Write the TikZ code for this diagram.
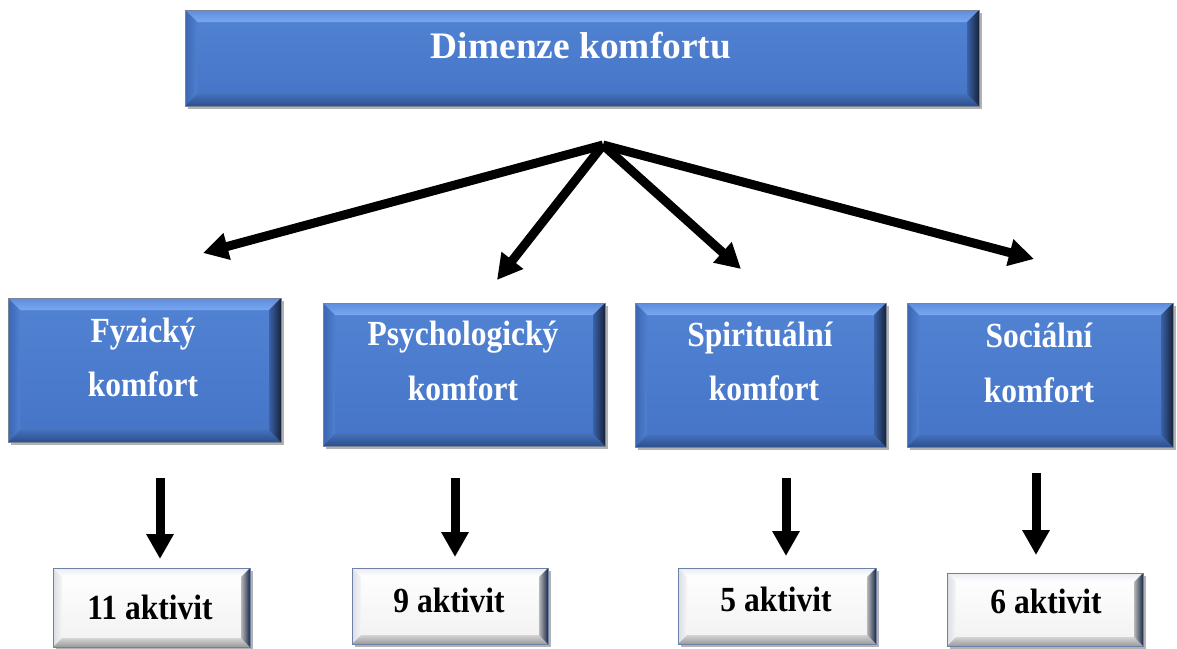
\documentclass[tikz,border=0pt]{standalone}
\usepackage{fontspec}
\setmainfont{Liberation Serif}
\usepackage{graphicx}
\usetikzlibrary{arrows.meta,fit}

% palettes for the bevelled boxes
\definecolor{bInnerT}{HTML}{5283D3}
\definecolor{bInnerB}{HTML}{4574C6}
\definecolor{bTopT}{HTML}{5D8DDC}
\definecolor{bTopB}{HTML}{79A7F2}
\definecolor{bLeftL}{HTML}{3C66B2}
\definecolor{bLeftR}{HTML}{4F80D0}
\definecolor{bBotT}{HTML}{4470BA}
\definecolor{bBotB}{HTML}{2D4F8C}
\definecolor{bRightL}{HTML}{3A62A8}
\definecolor{bRightR}{HTML}{17233C}
\definecolor{bLine}{RGB}{120,132,150}
\definecolor{wInnerB}{HTML}{F1F1F1}
\definecolor{wTopT}{HTML}{E9ECF2}
\definecolor{wLeftL}{HTML}{D9DCE2}
\definecolor{wLeftR}{HTML}{F6F6F6}
\definecolor{wBotT}{HTML}{D4D4D4}
\definecolor{wBotB}{HTML}{9A9A9A}
\definecolor{wRightL}{HTML}{B8B8B8}
\definecolor{wRightR}{HTML}{1C2A48}
\definecolor{wLine}{HTML}{6F80A8}

\tikzset{
  blueshadow/.style={fill=black!30},
  blueinner/.style={top color=bInnerT, bottom color=bInnerB},
  bluetop/.style={top color=bTopT, bottom color=bTopB},
  blueleft/.style={left color=bLeftL, right color=bLeftR},
  bluebottom/.style={top color=bBotT, bottom color=bBotB},
  blueright/.style={left color=bRightL, right color=bRightR},
  blueline/.style={draw=bLine},
  whiteshadow/.style={fill=black!30},
  whiteinner/.style={top color=white, bottom color=wInnerB},
  whitetop/.style={top color=wTopT, bottom color=white},
  whiteleft/.style={left color=wLeftL, right color=wLeftR},
  whitebottom/.style={top color=wBotT, bottom color=wBotB},
  whiteright/.style={left color=wRightL, right color=wRightR},
  whiteline/.style={draw=wLine},
  titletext/.style={text=white, font=\fontsize{37.4}{40}\selectfont\bfseries, inner sep=0pt, anchor=base},
  boxtext/.style={text=white, font=\fontsize{31.5}{34}\selectfont\bfseries, inner sep=0pt, anchor=base},
  counttext/.style={text=black, font=\fontsize{31.5}{34}\selectfont\bfseries, inner sep=0pt, anchor=base},
  bigarrow/.style={line width=9pt, -{Triangle[length=25pt, width=26pt]}},
}

% \bevelbox{name}{x1}{y1}{x2}{y2}{bevel}{palette}
\newcommand{\bevelbox}[7]{%
  \fill[#7shadow] ({#2+3},{#3+3}) rectangle ({#4+3},{#5+3});
  \path[#7inner] (#2,#3) rectangle (#4,#5);
  \path[#7top] (#2,#3) -- (#4,#3) -- ({#4-#6},{#3+#6}) -- ({#2+#6},{#3+#6}) -- cycle;
  \path[#7left] (#2,#3) -- ({#2+#6},{#3+#6}) -- ({#2+#6},{#5-#6}) -- (#2,#5) -- cycle;
  \path[#7bottom] (#2,#5) -- ({#2+#6},{#5-#6}) -- ({#4-#6},{#5-#6}) -- (#4,#5) -- cycle;
  \path[#7right] (#4,#3) -- ({#4-#6},{#3+#6}) -- ({#4-#6},{#5-#6}) -- (#4,#5) -- cycle;
  \node[fit={(#2,#3) (#4,#5)}, inner sep=0pt, #7line, line width=0.8pt] (#1) {};
}
\newcommand{\tallr}[1]{\scalebox{1}[1.12]{#1}}

\begin{document}
\begin{tikzpicture}[x=1pt, y=-1pt]
  \useasboundingbox[fill=white] (0,0) rectangle (1177,648);

  % heading
  \bevelbox{dim}{185}{10}{979}{106}{12}{blue}
  \node[titletext] (dimT) at (581,58) {Dimenze komfortu};

  % the four dimensions
  \bevelbox{fyz}{8}{298}{281}{442}{12}{blue}
  \bevelbox{psy}{323}{303}{605}{446}{12}{blue}
  \bevelbox{spi}{635}{303}{886}{447}{12}{blue}
  \bevelbox{soc}{907}{303}{1173}{447}{12}{blue}

  \node[boxtext] (fyzA) at (143,342) {\tallr{Fyzický}};
  \node[boxtext] (fyzB) at (143,396) {\tallr{komfort}};
  \node[boxtext] (psyA) at (463,345) {\tallr{Psychologický}};
  \node[boxtext] (psyB) at (463,400) {\tallr{komfort}};
  \node[boxtext] (spiA) at (760,346) {\tallr{Spirituální}};
  \node[boxtext] (spiB) at (764,400) {\tallr{komfort}};
  \node[boxtext] (socA) at (1039,347) {\tallr{Sociální}};
  \node[boxtext] (socB) at (1039,402) {\tallr{komfort}};

  % activity counts
  \bevelbox{n1}{53}{568}{250}{647}{9}{white}
  \bevelbox{n2}{352}{568}{548}{644}{9}{white}
  \bevelbox{n3}{678}{568}{876}{644}{9}{white}
  \bevelbox{n4}{947}{573}{1143}{646}{9}{white}

  \node[counttext] (n1T) at (150,619) {\tallr{11 aktivit}};
  \node[counttext] (n2T) at (449,612) {\tallr{9 aktivit}};
  \node[counttext] (n3T) at (776,611) {\tallr{5 aktivit}};
  \node[counttext] (n4T) at (1046,613) {\tallr{6 aktivit}};

  % connectors
  \coordinate (hub) at (603,145);
  \coordinate (d1) at (203,253);
  \coordinate (d2) at (497,280);
  \coordinate (d3) at (741,269);
  \coordinate (d4) at (1034,259);
  \draw[bigarrow] (hub) -- (d1);
  \draw[bigarrow] (hub) -- (d2);
  \draw[bigarrow] (hub) -- (d3);
  \draw[bigarrow] (hub) -- (d4);

  \coordinate (v1s) at (160,478);  \coordinate (v1e) at (160,559);
  \coordinate (v2s) at (455,478);  \coordinate (v2e) at (455,557);
  \coordinate (v3s) at (786,478);  \coordinate (v3e) at (786,556);
  \coordinate (v4s) at (1036,473); \coordinate (v4e) at (1036,555);
  \draw[bigarrow] (v1s) -- (v1e);
  \draw[bigarrow] (v2s) -- (v2e);
  \draw[bigarrow] (v3s) -- (v3e);
  \draw[bigarrow] (v4s) -- (v4e);
\end{tikzpicture}
\end{document}
